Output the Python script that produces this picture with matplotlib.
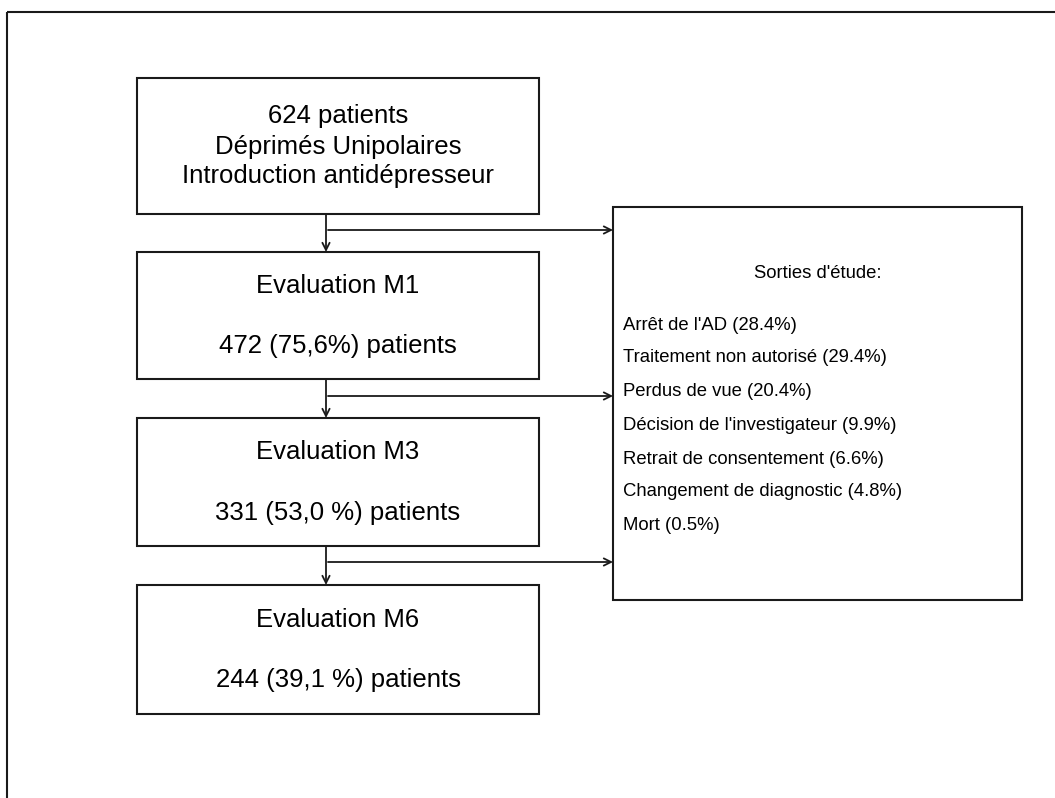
import matplotlib
matplotlib.use("Agg")
import matplotlib.pyplot as plt
from matplotlib.patches import Rectangle

# ---- content ----
box_titles = ["624 patients\nDéprimés Unipolaires\nIntroduction antidépresseur",
              "Evaluation M1", "Evaluation M3", "Evaluation M6"]
box_counts = ["", "472 (75,6%) patients", "331 (53,0 %) patients", "244 (39,1 %) patients"]
exit_title = "Sorties d'étude:"
exit_reasons = ["Arrêt de l'AD", "Traitement non autorisé", "Perdus de vue",
                "Décision de l'investigateur", "Retrait de consentement",
                "Changement de diagnostic", "Mort"]
exit_pcts = [28.4, 29.4, 20.4, 9.9, 6.6, 4.8, 0.5]

# ---- layout (pixel coordinates) ----
W, H = 1055, 798
fig = plt.figure(figsize=(W / 100, H / 100), dpi=100)
ax = fig.add_axes([0, 0, 1, 1])
ax.set_xlim(0, W)
ax.set_ylim(H, 0)
ax.axis("off")

FONT = "Liberation Sans"
LW = 1.5
EC = "#1a1a1a"

# outer frame (only left and top visible)
ax.plot([7, 7], [12, H + 5], color=EC, lw=LW, solid_capstyle="butt")
ax.plot([7, W + 5], [12, 12], color=EC, lw=LW, solid_capstyle="butt")

bx0, bx1 = 137, 539
boxes = [(78, 214), (252, 379), (418, 546), (585, 714)]
for (t, b) in boxes:
    ax.add_patch(Rectangle((bx0, t), bx1 - bx0, b - t, fill=False, ec=EC, lw=LW))

cx = (bx0 + bx1) / 2
# box 1 text (three lines)
for line, y in zip(box_titles[0].split("\n"), [116, 147, 176]):
    ax.text(cx, y, line, ha="center", va="center", fontsize=18.5, family=FONT, color="black")
title_y = [286, 452, 620]
count_y = [346, 513, 680]
for i in range(1, 4):
    ax.text(cx, title_y[i - 1], box_titles[i], ha="center", va="center",
            fontsize=18.5, family=FONT, color="black")
    ax.text(cx, count_y[i - 1], box_counts[i], ha="center", va="center",
            fontsize=18.5, family=FONT, color="black")

# connectors
vx = 326
rx0, rx1, rt, rb = 613, 1022, 207, 600
arrow_y = [230, 396, 562]
ap = dict(arrowstyle="->", lw=1.3, color=EC, shrinkA=0, shrinkB=0, mutation_scale=13)
for i in range(3):
    ax.annotate("", xy=(vx, boxes[i + 1][0]), xytext=(vx, boxes[i][1]), arrowprops=ap)
    ax.annotate("", xy=(rx0, arrow_y[i]), xytext=(vx + 2, arrow_y[i]), arrowprops=ap)

# exits box
ax.add_patch(Rectangle((rx0, rt), rx1 - rx0, rb - rt, fill=False, ec=EC, lw=LW))
ax.text((rx0 + rx1) / 2, 273, exit_title, ha="center", va="center",
        fontsize=13.3, family=FONT, color="black")
ys = [325, 358, 392, 426, 459, 492, 525]
for r, p, y in zip(exit_reasons, exit_pcts, ys):
    ax.text(623, y, f"{r} ({p:.1f}%)", ha="left", va="center",
            fontsize=13.3, family=FONT, color="black")

fig.savefig("out.png", dpi=100, facecolor="white")
